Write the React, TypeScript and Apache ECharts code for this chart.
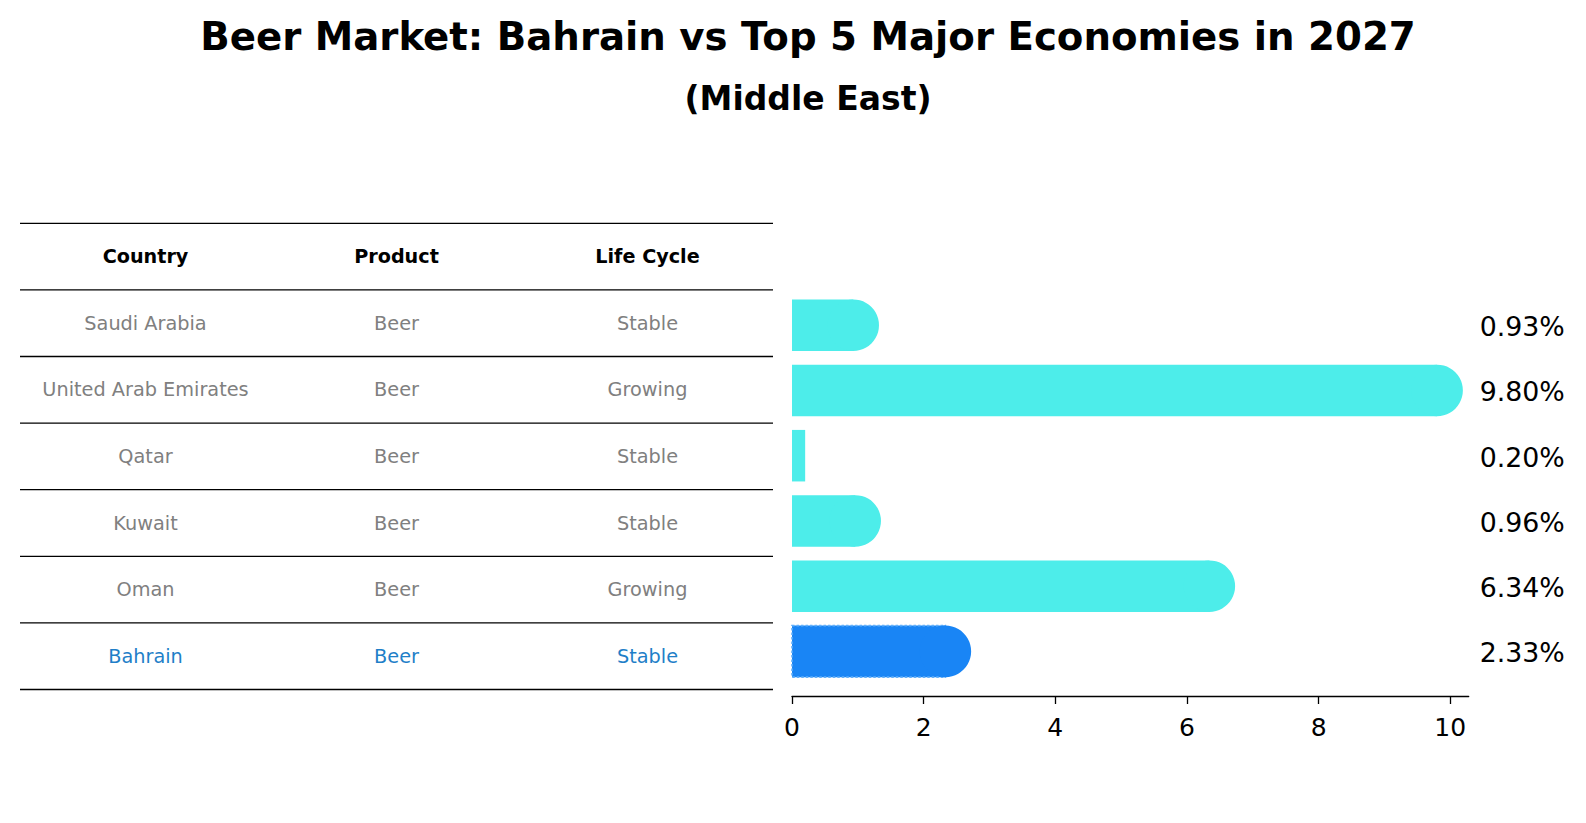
import React, { useEffect, useRef } from "react";
import * as echarts from "echarts";

const TITLE = "Beer Market: Bahrain vs Top 5 Major Economies in 2027";
const SUBTITLE = "(Middle East)";
const HEADERS = ["Country", "Product", "Life Cycle"];
const COUNTRIES = ["Saudi Arabia", "United Arab Emirates", "Qatar", "Kuwait", "Oman", "Bahrain"];
const PRODUCTS = ["Beer", "Beer", "Beer", "Beer", "Beer", "Beer"];
const LIFE_CYCLE = ["Stable", "Growing", "Stable", "Stable", "Growing", "Stable"];
const GROWTH = [0.93, 9.8, 0.2, 0.96, 6.34, 2.33];
const X_TICKS = [0, 2, 4, 6, 8, 10];
const X_MAX = 10.28;
const FOCUS = "Bahrain";

const FONT = "DejaVu Sans";
const BAR_COLOR = "#4DEDEA";
const FOCUS_BAR = "#1985F5";
const FOCUS_TEXT = "#1f7fc8";
const GRAY = "#808080";

export default function App() {
  const ref = useRef<HTMLDivElement>(null);

  useEffect(() => {
    document.body.style.margin = "0";
    if (!ref.current) return;
    const chart = echarts.init(ref.current, undefined, { renderer: "svg" });

    const tableLeft = 20;
    const tableRight = 773;
    const tableTop = 223.3;
    const rowH = 66.6;
    const colW = (tableRight - tableLeft) / 3;
    const colX = [0, 1, 2].map((c) => tableLeft + colW * (c + 0.5));

    const graphics: any[] = [
      {
        type: "text",
        x: 808,
        y: 36,
        style: { text: TITLE, fontFamily: FONT, fontWeight: "bold", fontSize: 38.7, fill: "#000", align: "center", verticalAlign: "middle" },
      },
      {
        type: "text",
        x: 808,
        y: 98,
        style: { text: SUBTITLE, fontFamily: FONT, fontWeight: "bold", fontSize: 33, fill: "#000", align: "center", verticalAlign: "middle" },
      },
    ];
    for (let k = 0; k <= COUNTRIES.length + 1; k++) {
      const y = tableTop + k * rowH;
      graphics.push({
        type: "line",
        shape: { x1: tableLeft, y1: y, x2: tableRight, y2: y },
        style: { stroke: "#000", lineWidth: 1.3 },
      });
    }
    HEADERS.forEach((h, c) => {
      graphics.push({
        type: "text",
        x: colX[c],
        y: tableTop + rowH / 2,
        style: { text: h, fontFamily: FONT, fontWeight: "bold", fontSize: 19.2, fill: "#000", align: "center", verticalAlign: "middle" },
      });
    });
    COUNTRIES.forEach((name, i) => {
      const cells = [name, PRODUCTS[i], LIFE_CYCLE[i]];
      const color = name === FOCUS ? FOCUS_TEXT : GRAY;
      cells.forEach((t, c) => {
        graphics.push({
          type: "text",
          x: colX[c],
          y: tableTop + rowH * (i + 1.5),
          style: { text: t, fontFamily: FONT, fontSize: 19.3, fill: color, align: "center", verticalAlign: "middle" },
        });
      });
    });

    const data = GROWTH.map((v, i) => [v, COUNTRIES[i]]);

    chart.setOption({
      animation: false,
      graphic: graphics,
      grid: { left: 792, right: 117.3, top: 292.6, height: 391.4, containLabel: false },
      xAxis: {
        type: "value",
        min: 0,
        max: X_MAX,
        offset: 12,
        axisLine: { show: true, lineStyle: { color: "#000", width: 1.3 } },
        axisTick: { show: true, length: 8, lineStyle: { color: "#000", width: 1.3 }, customValues: X_TICKS },
        axisLabel: { customValues: X_TICKS, fontFamily: FONT, fontSize: 25, color: "#000", margin: 19 },
        splitLine: { show: false },
      },
      yAxis: { type: "category", data: COUNTRIES, inverse: true, show: false },
      series: [
        {
          type: "custom",
          clip: false,
          encode: { x: 0, y: 1 },
          data,
          renderItem: (params: any, api: any) => {
            const v = api.value(0);
            const idx = api.value(1);
            const start = api.coord([0, idx]);
            const end = api.coord([v, idx]);
            const band = api.size([0, 1])[1];
            const h = band * 0.79;
            const r = h / 2;
            const isFocus = COUNTRIES[idx] === FOCUS;
            const fill = isFocus ? FOCUS_BAR : BAR_COLOR;
            const len = end[0] - start[0];
            const children: any[] = [
              {
                type: "rect",
                shape: { x: start[0], y: start[1] - r, width: len, height: h },
                style: isFocus
                  ? { fill, stroke: "#62b0fa", lineWidth: 1.6, lineDash: [2.5, 2] }
                  : { fill },
              },
            ];
            if (len > r) {
              children.push({ type: "circle", shape: { cx: end[0], cy: end[1], r }, style: { fill } });
            }
            const labelX = api.coord([X_MAX, idx])[0] + 11;
            children.push({
              type: "text",
              x: labelX,
              y: end[1] + 1.5,
              style: { text: v.toFixed(2) + "%", fontFamily: FONT, fontSize: 26.8, fill: "#000", align: "left", verticalAlign: "middle" },
            });
            return { type: "group", children };
          },
        },
      ],
    });

    return () => chart.dispose();
  }, []);

  return <div ref={ref} style={{ width: 1586, height: 823 }} />;
}
